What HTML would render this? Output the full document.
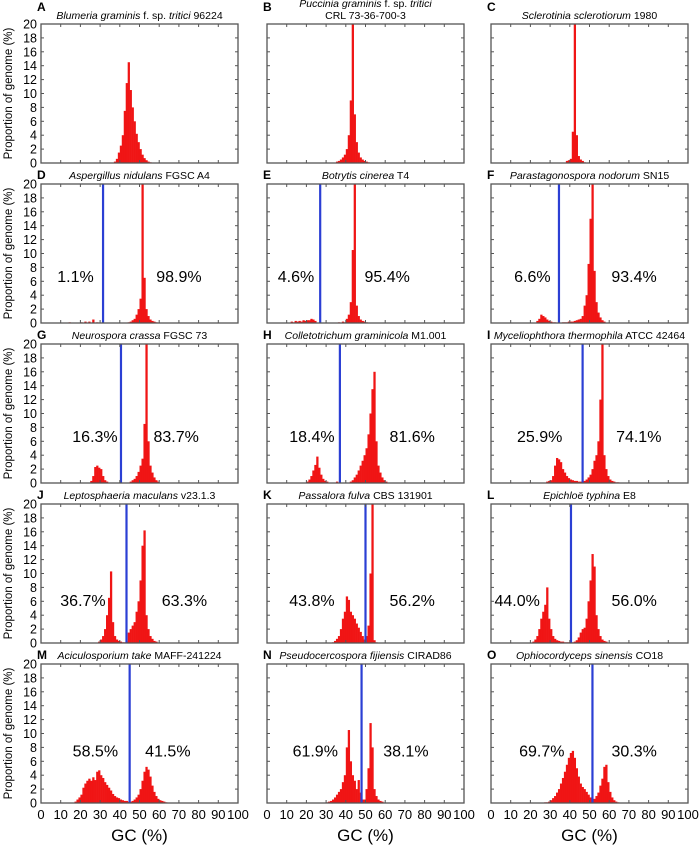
<!DOCTYPE html>
<html><head><meta charset="utf-8"><style>
html,body{margin:0;padding:0;background:#fff;}
svg{display:block;font-family:"Liberation Sans",Arial,sans-serif;}
</style></head><body>
<svg id="fig" width="700" height="845" viewBox="0 0 700 845"></svg>
<script>
const panelLetters=["A","B","C","D","E","F","G","H","I","J","K","L","M","N","O"];
const speciesNames=["Blumeria graminis","Puccinia graminis","Sclerotinia sclerotiorum","Aspergillus nidulans","Botrytis cinerea","Parastagonospora nodorum","Neurospora crassa","Colletotrichum graminicola","Myceliophthora thermophila","Leptosphaeria maculans","Passalora fulva","Epichloë typhina","Aciculosporium take","Pseudocercospora fijiensis","Ophiocordyceps sinensis"];
const speciesSuffix=[" f. sp. tritici 96224","","1980"," FGSC A4"," T4"," SN15"," FGSC 73"," M1.001"," ATCC 42464"," v23.1.3"," CBS 131901"," E8"," MAFF-241224"," CIRAD86"," CO18"];
const binStarts=[37,35,38,14,12,23,25,20,28,29,33,21,17,30,27];
const valsA=[0.2,0.6,1.5,2.5,4.0,7.5,11.5,14.5,10.5,8.0,6.0,4.2,3.0,2.0,1.2,0.7,0.4,0.2,0.1];
const valsB=[0.2,0.3,0.5,0.8,1.2,2,4,9,25,7,3,1.5,0.8,0.5,0.3,0.2,0.1];
const valsC=[0.3,0.4,0.6,4.5,25,4,1,0.5,0.3,0.1];
const valsD=[0.1,0,0,0,0,0,0.1,0,0.2,0,0.2,0,0.5,0,0.1,0,0,0,0,0,0,0,0,0,0,0,0,0,0,0,0.1,0.2,0.4,0.6,1.2,2.0,3.5,25,6.5,2,1,0.5,0.3,0.2,0.1];
const valsE=[0.2,0.1,0.3,0.2,0.3,0.2,0.4,0.3,0.4,0.4,0.6,0.5,0.3,0,0,0,0,0,0,0,0,0,0,0,0.1,0,0.2,0.1,0.6,1.2,3.0,10.5,25,2.5,1,0.5,0.3,0.2,0.1];
const valsF=[0.3,0.6,1.2,1.0,0.8,0.5,0.3,0.2,0.1,0.1,0,0,0,0.1,0.1,0.1,0.2,0.2,0.2,0.3,0.4,0.5,0.6,1,2.5,4,8.5,15,25,7.5,3,1.5,0.8,0.4,0.2];
const valsG=[0.3,1.0,2.3,2.5,2.2,2.0,1.0,0.4,0.2,0,0,0,0,0,0,0,0,0,0,0,0.2,0.4,0.6,1.0,1.6,2.5,3.5,8.5,25,6.0,2.5,1.5,0.8,0.4,0.2];
const valsH=[0.2,0.5,1.0,1.8,2.6,3.8,2.2,1.2,0.6,0.3,0.2,0,0,0,0,0.2,0,0,0,0,0,0,0.2,0.4,0.8,1.2,1.8,2.5,3.2,4,5,7,10,13.5,16,6,2.5,1.5,0.8,0.4,0.2];
const valsI=[0.2,0.3,0.4,1.0,2.5,3.6,3.4,3.0,2.0,1.5,1.0,0.7,0.5,0.4,0.3,0.3,0.2,0.2,0.3,0.3,0.5,0.8,1.2,2,3.2,4,6,12,25,4,2,1,0.5,0.3,0.2,0.1,0.1];
const valsJ=[0.2,0.5,1.0,2,4,6.5,10.3,3,1,0.5,0.3,0.2,0.1,0.1,0.2,1.5,2.0,2.5,3,4.5,6,9,14,16.2,4,2,1,0.6,0.3,0.2];
const valsK=[0.1,0.3,0.6,1,2,3.5,4.5,6.7,6.2,4.5,4,3.5,2.8,2.2,1.6,1.0,0.5,1.0,2.5,10,25,0.4,0.1];
const valsL=[0.2,0.5,1,2,3.5,4.5,5.5,8,3.5,2,1,0.6,0.4,0.3,0.2,0.2,0.1,0.1,0.1,0.1,0.1,0.2,0.4,0.8,1.5,2,2.2,3.5,6,9,12.8,11,4,2,1,0.5,0.3,0.2];
const valsM=[0.2,0.5,0.8,1.2,2.2,2.8,3.2,3.5,3.2,3.7,3.3,4.5,4.7,4.0,3.6,3.0,2.6,2.2,1.8,1.3,1.0,0.8,0.7,0.5,0.4,0.3,0.3,0.2,0.2,0.3,0.5,0.8,1.2,2,3.2,4.5,5.2,4.8,3.8,2.5,1.6,1.0,0.6,0.4,0.3,0.2,0.1];
const valsN=[0.1,0.2,0.3,0.5,0.8,1.2,1.6,2.0,3,4,8,10.5,6,4,3.2,2,3.3,1.5,0.5,0.5,2,5,11.5,8,2,1,0.5,0.3,0.2];
const valsO=[0.1,0.1,0.2,0.4,0.7,1.0,1.5,2.0,2.8,3.6,4.5,5.5,6.5,7.2,7.5,6.5,5,3.8,2.8,2.3,2,1.6,1.2,0.8,0.5,0.6,1,1.5,2.5,3.5,5.2,5.5,3,1.6,0.8,0.4,0.2,0.1];
const allVals=[valsA,valsB,valsC,valsD,valsE,valsF,valsG,valsH,valsI,valsJ,valsK,valsL,valsM,valsN,valsO];
const cutoffs=[null,null,null,31.5,27,34.5,40.6,37,46.5,43.4,50,40.6,45,48,51.5];
const leftPct=["","","","1.1%","4.6%","6.6%","16.3%","18.4%","25.9%","36.7%","43.8%","44.0%","58.5%","61.9%","69.7%"];
const rightPct=["","","","98.9%","95.4%","93.4%","83.7%","81.6%","74.1%","63.3%","56.2%","56.0%","41.5%","38.1%","30.3%"];
const leftPctX=[0,0,0,17.5,14.7,21,27.4,22.8,24.7,21.3,22.8,13.3,27.6,24.5,25.8];
const rightPctX=[0,0,0,70,61,72.6,68.6,73.7,75,72.8,73.7,72.7,64.4,70.5,72.7];
const pctY=[0,0,0,6.7,6.7,6.7,6.7,6.7,6.7,6.1,6.1,6.1,7.5,7.5,7.5];
const yTicks=[0,2,4,6,8,10,12,14,16,18,20];
const xTicks=[0,10,20,30,40,50,60,70,80,90,100];

const NS="http://www.w3.org/2000/svg";
const svg=document.getElementById("fig");
const colX=[41,267,491], rowY=[24,184,344,504,664], W=197, H=139;
function mk(tag,attrs,parent){const e=document.createElementNS(NS,tag);for(const k in attrs)e.setAttribute(k,attrs[k]);(parent||svg).appendChild(e);return e;}

for(let p=0;p<15;p++){
  const c=p%3, r=Math.floor(p/3);
  const x0=colX[c], y0=rowY[r];
  const xs=v=>x0+v/100*W;
  const ys=v=>y0+H-v/20*H;
  const g=mk("g",{});
  
  
  const vals=allVals[p];
  for(let i=0;i<vals.length;i++){
    if(vals[i]<=0) continue;
    const gc=binStarts[p]+i;
    const v=Math.min(vals[i],20);
    const b=mk("rect",{x:xs(gc),y:ys(v),width:xs(gc+1)-xs(gc)+0.3,height:ys(0)-ys(v),fill:"#f01515"},g);
    
    
  }
  if(cutoffs[p]!==null){
    const l=mk("line",{x1:xs(cutoffs[p]),x2:xs(cutoffs[p]),y1:y0,y2:y0+H,stroke:"#2b3fd4","stroke-width":2.2},g);
    
    
    const t1=mk("text",{x:xs(leftPctX[p]),y:ys(pctY[p])+5.5,"text-anchor":"middle","font-size":16},g);
    t1.textContent=leftPct[p];
    
    
    const t2=mk("text",{x:xs(rightPctX[p]),y:ys(pctY[p])+5.5,"text-anchor":"middle","font-size":16},g);
    t2.textContent=rightPct[p];
    
    
  }
  const f=mk("rect",{x:x0,y:y0,width:W,height:H,fill:"none",stroke:"#555","stroke-width":1.3},g);
  
  
  for(const t of yTicks){
    mk("line",{x1:x0,x2:x0+3,y1:ys(t),y2:ys(t),stroke:"#555","stroke-width":1},g);
    mk("line",{x1:x0+W,x2:x0+W-3,y1:ys(t),y2:ys(t),stroke:"#555","stroke-width":1},g);
    if(c===0){
      const tl=mk("text",{x:x0-4,y:ys(t)+4.5,"text-anchor":"end","font-size":12.5},g);
      tl.textContent=t;
      
      
    }
  }
  for(const t of xTicks){
    mk("line",{x1:xs(t),x2:xs(t),y1:y0+H,y2:y0+H-3,stroke:"#555","stroke-width":1},g);
    mk("line",{x1:xs(t),x2:xs(t),y1:y0,y2:y0+3,stroke:"#555","stroke-width":1},g);
    if(r===4){
      const xl=mk("text",{x:xs(t),y:y0+H+16,"text-anchor":"middle","font-size":13},g);
      xl.textContent=t;
      
      
    }
  }
  const L=mk("text",{x:x0-4,y:y0-(p<3?13:5),"font-size":12,"font-weight":"bold"},g);
  L.textContent=panelLetters[p];
  
  
  const title=mk("text",{x:x0+W/2,y:p===1?y0-17:y0-5,"text-anchor":"middle","font-size":10.5},g);
  
  
  const it=mk("tspan",{"font-style":"italic"},title);
  it.textContent=speciesNames[p];
  if(p===0){
    const a=mk("tspan",{},title);a.textContent=" f. sp. ";
    const b=mk("tspan",{"font-style":"italic"},title);b.textContent="tritici";
    const d=mk("tspan",{},title);d.textContent=" 96224";
  } else if(p===1){
    const a=mk("tspan",{},title);a.textContent=" f. sp. ";
    const b=mk("tspan",{"font-style":"italic"},title);b.textContent="tritici";
    const t2=mk("text",{x:x0+W/2,y:y0-5,"text-anchor":"middle","font-size":10.5},g);
    t2.textContent="CRL 73-36-700-3";
    
    
  } else if(p===2){
    const a=mk("tspan",{},title);a.textContent=" 1980";
  } else {
    const a=mk("tspan",{},title);a.textContent=speciesSuffix[p];
  }
  if(c===0){
    const yt=mk("text",{x:0,y:0,"text-anchor":"middle","font-size":11.5,transform:"translate(12,"+(y0+H/2)+") rotate(-90)"},g);
    yt.textContent="Proportion of genome (%)";
    
    
  }
  if(r===4){
    const xt=mk("text",{x:x0+W/2,y:y0+H+38,"text-anchor":"middle","font-size":17},g);
    xt.textContent="GC (%)";
    
    
  }
}
</script>
</body></html>
